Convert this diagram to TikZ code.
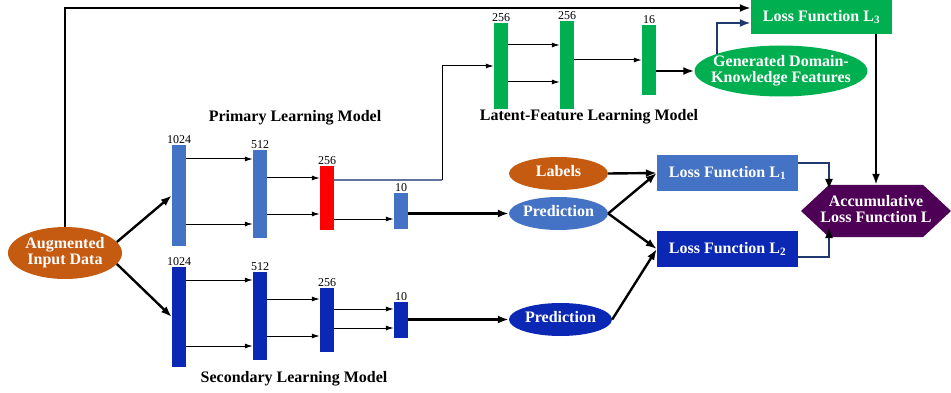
\documentclass[tikz,border=0pt]{standalone}
\usepackage{fontspec}
\setmainfont{Liberation Serif}
\usetikzlibrary{arrows.meta}
\usetikzlibrary{shapes.geometric}
\usetikzlibrary{shapes.symbols}
\usetikzlibrary{positioning}
\definecolor{orange1}{RGB}{197, 90, 17}
\definecolor{blue1}{RGB}{68, 114, 196}
\definecolor{blue2}{RGB}{11, 40, 180}
\definecolor{green1}{RGB}{0, 176, 80}
\definecolor{red1}{RGB}{255, 0, 0}
\definecolor{purple1}{RGB}{78, 0, 86}
\definecolor{navy1}{RGB}{31, 56, 110}
\definecolor{grey1}{RGB}{96, 116, 156}

\newcommand{\ctr}[1]{\makebox[0pt]{\begin{tabular}{@{}c@{}}#1\end{tabular}}}

\tikzset{
  bar/.style={rectangle, inner sep=0pt, minimum width=14pt},
  ell/.style={ellipse, inner sep=0pt, text=white, font=\fontsize{16}{16}\selectfont\bfseries},
  lossbox/.style={rectangle, inner sep=0pt, minimum width=141pt, minimum height=36pt, text=white, font=\fontsize{16}{16}\selectfont\bfseries},
  num/.style={font=\fontsize{12}{12}\selectfont, inner sep=1pt},
  title/.style={font=\fontsize{16}{16}\selectfont\bfseries, inner sep=0pt},
  bigarrow/.style={line width=2.4pt, -{Latex[length=11pt,width=8pt]}},
  smallarrow/.style={line width=1pt, -{Latex[length=8pt,width=5pt]}}
}

\begin{document}
\begin{tikzpicture}[x=1pt, y=-1pt]
  \useasboundingbox (0,0) rectangle (951,393);

  \node[ell, fill=orange1, minimum width=114pt, minimum height=52pt] (n1) at (65,253) {\ctr{Augmented\\Input Data}};

  % primary model
  \node[bar, fill=blue1, minimum height=101pt] (p1) at (179,195.5) {};
  \node[bar, fill=blue1, minimum height=88pt] (p2) at (260,194) {};
  \node[bar, fill=red1, minimum height=64pt] (p3) at (327,198) {};
  \node[bar, fill=blue1, minimum height=36pt] (p4) at (401,211) {};

  % secondary model
  \node[bar, fill=blue2, minimum height=100pt] (s1) at (179,317) {};
  \node[bar, fill=blue2, minimum height=88pt] (s2) at (260,316) {};
  \node[bar, fill=blue2, minimum height=64pt] (s3) at (327,320) {};
  \node[bar, fill=blue2, minimum height=36pt] (s4) at (401,320) {};

  % latent-feature model
  \node[bar, fill=green1, minimum height=86pt] (g1) at (501,66) {};
  \node[bar, fill=green1, minimum height=88pt] (g2) at (567,65) {};
  \node[bar, fill=green1, minimum height=70pt] (g3) at (649,60) {};

  \foreach \b/\t in {p1/1024, p2/512, p3/256, p4/10, s1/1024, s2/512, s3/256, s4/10, g1/256, g2/256, g3/16}
    \node[num, above=0pt of \b] (t\b) {\t};

  \node[title] (tp) at (295,118) {Primary Learning Model};
  \node[title] (tl) at (589,117) {Latent-Feature Learning Model};
  \node[title] (ts) at (294,379) {Secondary Learning Model};

  \node[ell, fill=green1, minimum width=173pt, minimum height=51pt] (gd) at (781,71) {\ctr{Generated Domain-\\Knowledge Features}};
  \node[ell, fill=orange1, minimum width=99pt, minimum height=33pt] (lab) at (558.5,173.5) {\ctr{Labels}};
  \node[ell, fill=blue1, minimum width=99pt, minimum height=33pt] (pr1) at (558.5,213.5) {\ctr{Prediction}};
  \node[ell, fill=blue2, minimum width=103pt, minimum height=33pt] (pr2) at (560.5,319.5) {\ctr{Prediction}};

  \node[lossbox, fill=green1, minimum height=34pt] (l3) at (821.5,17) {Loss Function L\textsubscript{3}};
  \node[lossbox, fill=blue1] (l1) at (727.5,173) {Loss Function L\textsubscript{1}};
  \node[lossbox, fill=blue2] (l2) at (727.5,249) {Loss Function L\textsubscript{2}};

  \node[signal, signal to=east and west, signal pointer angle=86, fill=purple1, inner sep=0pt,
        minimum width=150pt, minimum height=52pt, text=white, font=\fontsize{16}{16}\selectfont\bfseries]
        (acc) at (876,211) {\ctr{Accumulative\\Loss Function L}};

  % layer to layer
  \foreach \from/\to/\y in {p1/p2/159, p1/p2/224, p2/p3/178, p2/p3/214, p3/p4/219,
                            s1/s2/280, s1/s2/346, s2/s3/299, s2/s3/336, s3/s4/309, s3/s4/328,
                            g1/g2/45, g1/g2/82, g2/g3/60}
    \draw[smallarrow] (\from.east |- 0,\y) -- (\to.west |- 0,\y);

  \draw[line width=1.2pt, grey1] (p3.east |- 0,180) -- ++(108,0) coordinate (c1);
  \draw[smallarrow] (c1) |- (g1.west);

  \draw[bigarrow] (n1.12) -- (p1.west);
  \draw[bigarrow] (n1.-12) -- (s1.west);
  \draw[bigarrow] (n1.north) |- (l3.west |- 0,8);
  \foreach \from/\to in {p4/pr1, s4/pr2, g3/gd}
    \draw[bigarrow] (\from.east |- \to.west) -- (\to.west);
  \foreach \from/\to in {lab/l1, pr1/l1, pr1/l2, pr2/l2}
    \draw[bigarrow] (\from.east) -- (\to.west);
  \draw[bigarrow] (acc.north |- l3.south) -- (acc.north);

  \draw[line width=2pt, navy1, -{Latex[length=11pt,width=8pt]}] (gd.165) |- (l3.west |- 0,23);
  \draw[line width=2pt, navy1, -{Latex[length=11pt,width=8pt,color=black]}] (l1.east |- 0,163) -| ([shift={(-47,-21)}]acc.center);
  \draw[line width=2pt, navy1, -{Latex[length=11pt,width=8pt,color=black]}] (l2.east |- 0,257) -| ([shift={(-47,16)}]acc.center);
\end{tikzpicture}
\end{document}
